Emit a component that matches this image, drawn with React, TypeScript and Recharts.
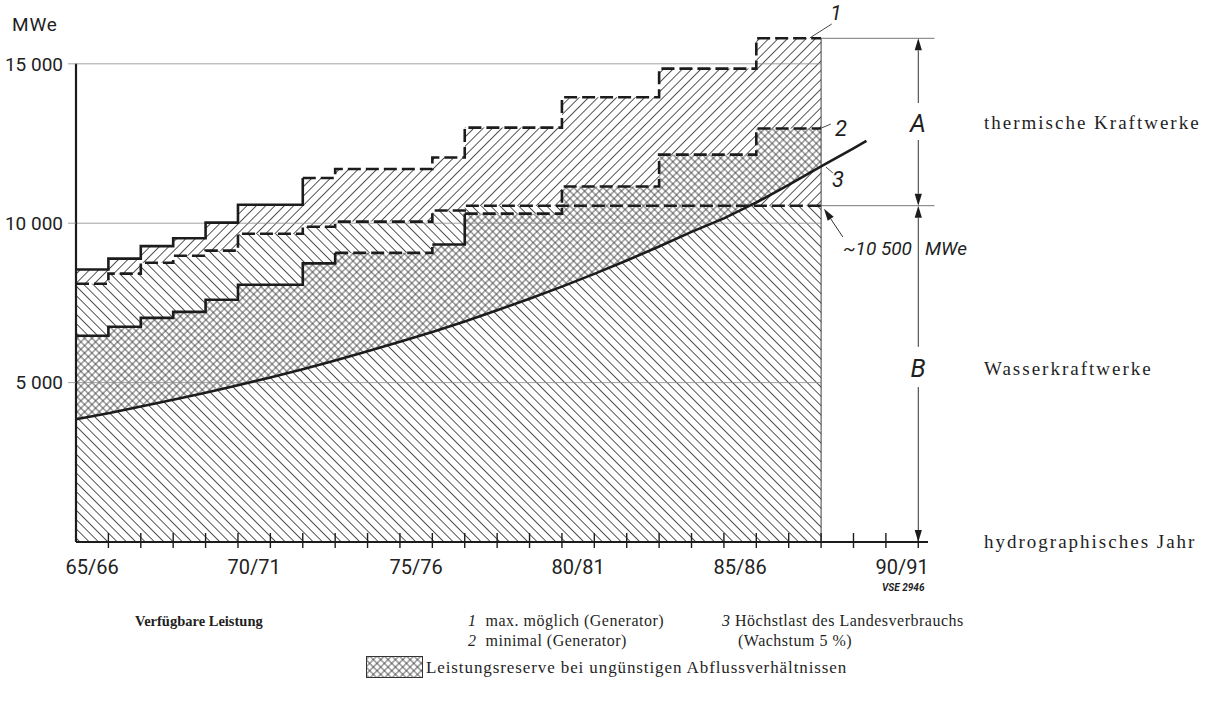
import React from 'react'
import { ComposedChart, Area, Line, XAxis, YAxis, ReferenceLine } from 'recharts'

// hydrographic years, index 0 = 65/66 … index 22 = 87/88
// 1 max. möglich (Generator)
const MAX_POSSIBLE = [8550, 8890, 9280, 9530, 10020, 10580, 10580, 11420, 11700, 11700, 11700, 12060, 13000, 13000, 13000, 13950, 13950, 13950, 14850, 14850, 14850, 15800, 15800]
// Wasserkraftwerke (upper limit of the hydro band)
const HYDRO_CAP = [8100, 8420, 8760, 8980, 9140, 9670, 9670, 9890, 10050, 10050, 10050, 10400, 10550, 10550, 10550, 10550, 10550, 10550, 10550, 10550, 10550, 10550, 10550]
// 2 minimal (Generator)
const MINIMAL = [6470, 6750, 7030, 7220, 7600, 8070, 8070, 8740, 9070, 9070, 9070, 9330, 10300, 10300, 10300, 11150, 11150, 11150, 12150, 12150, 12150, 12970, 12970]
// 3 Höchstlast des Landesverbrauchs
const LOAD_YEARS = [0, 1, 2, 3, 4, 5, 6, 7, 8, 9, 10, 11, 12, 13, 14, 15, 16, 17, 18, 19, 20, 20.8, 21, 22, 23, 24, 24.4]
const PEAK_LOAD = [3850, 4040, 4250, 4460, 4680, 4920, 5160, 5420, 5690, 5980, 6280, 6590, 6920, 7270, 7630, 8010, 8410, 8830, 9270, 9730, 10150, 10550, 10650, 11200, 11780, 12350, 12580]

const Y_TICKS = [5000, 10000, 15000]
const X_LABELS = ['65/66', '70/71', '75/76', '80/81', '85/86', '90/91']
const X_LABEL_POS = [0.5, 5.5, 10.5, 15.5, 20.5, 25.5]
const X_TICKS = Array.from({ length: 26 }, (_, i) => i + 1)

const HYDRO_LEVEL = 10550
const TOP_LEVEL = 15800

const LAST = MAX_POSSIBLE.length // 23 = right edge of the hatched block

const STEP_SERIES = [
  { key: 'max', values: MAX_POSSIBLE, pieces: [{ from: 0, to: 7, dashed: false }, { from: 7, to: LAST, dashed: true }] },
  { key: 'hyd', values: HYDRO_CAP, pieces: [{ from: 0, to: LAST, dashed: true }] },
  {
    key: 'min', values: MINIMAL, pieces: [
      { from: 0, to: 8, dashed: false }, { from: 8, to: 11, dashed: true },
      { from: 11, to: 12, dashed: false }, { from: 12, to: LAST, dashed: true },
    ],
  },
]

const stepVal = (arr: number[], x: number) =>
  Number.isInteger(x) && x <= arr.length ? arr[Math.min(x, arr.length - 1)] : undefined

const xs = Array.from(new Set([...Array.from({ length: LAST + 1 }, (_, i) => i), ...LOAD_YEARS])).sort((a, b) => a - b)

const data = xs.map(x => {
  const row: Record<string, any> = { x }
  for (const s of STEP_SERIES) {
    const v = stepVal(s.values, x)
    row[s.key] = v
    s.pieces.forEach((p, i) => {
      row[`${s.key}${i}`] = v !== undefined && x >= p.from && x <= p.to ? v : undefined
    })
  }
  const li = LOAD_YEARS.indexOf(x)
  const load = li >= 0 ? PEAK_LOAD[li] : undefined
  row.load = load
  row.loadFill = load !== undefined && x <= LAST ? load : undefined
  const h = HYDRO_CAP[Math.min(Math.floor(x), LAST - 1)]
  row.loadAboveHydro = load !== undefined && x <= LAST && load >= h ? [h, load] : undefined
  return row
})

const INK = '#1c1c1c'
const HATCH = '#3a3a3a'
const GRID = '#8c8c8c'
const SERIF = '"Liberation Serif", "DejaVu Serif", serif'
const SANS = 'Roboto, "DejaVu Sans", sans-serif'

const fmtThousands = (v: number) => String(v).replace(/\B(?=(\d{3})+(?!\d))/g, ' ')

function CrossTick(props: any) {
  const { x, y } = props
  return <line x1={x} x2={x} y1={y - 9} y2={y + 6} stroke={INK} strokeWidth={1.4} />
}

// line with filled arrow head at its second point
function arrowShape(props: any) {
  const { x1, y1, x2, y2 } = props
  const dx = x2 - x1
  const dy = y2 - y1
  const len = Math.hypot(dx, dy) || 1
  const ux = dx / len
  const uy = dy / len
  const L = 12
  const W = 3.6
  const bx = x2 - ux * L
  const by = y2 - uy * L
  const pts = `${x2},${y2} ${bx - uy * W},${by + ux * W} ${bx + uy * W},${by - ux * W}`
  return (
    <g>
      <line x1={x1} y1={y1} x2={bx} y2={by} stroke="#333" strokeWidth={1} />
      <polygon points={pts} fill={INK} />
    </g>
  )
}

function T({ x, y, children, size = 16, font = SERIF, italic = false, bold = false, ls = 0, center = false }: any) {
  return (
    <div
      style={{
        position: 'absolute', left: x, top: y,
        transform: `translate(${center ? '-50%' : '0'}, -50%)`,
        fontSize: size, fontFamily: font, fontStyle: italic ? 'italic' : 'normal',
        fontWeight: bold ? 700 : 400, letterSpacing: ls, whiteSpace: 'nowrap',
        lineHeight: 1, color: '#1f1f1f',
      }}
    >
      {children}
    </div>
  )
}

function Patterns() {
  return (
    <defs>
      <pattern id="hatchFwd" patternUnits="userSpaceOnUse" width={6.6} height={6.6} patternTransform="rotate(45)">
        <rect width={6.6} height={6.6} fill="#fff" />
        <line x1={3.3} y1={0} x2={3.3} y2={6.6} stroke={HATCH} strokeWidth={0.85} />
      </pattern>
      <pattern id="hatchBack" patternUnits="userSpaceOnUse" width={6.6} height={6.6} patternTransform="rotate(-45)">
        <rect width={6.6} height={6.6} fill="#fff" />
        <line x1={3.3} y1={0} x2={3.3} y2={6.6} stroke={HATCH} strokeWidth={0.85} />
      </pattern>
      <pattern id="hatchCross" patternUnits="userSpaceOnUse" width={5.2} height={5.2} patternTransform="rotate(45)">
        <rect width={5.2} height={5.2} fill="#fff" />
        <line x1={2.6} y1={0} x2={2.6} y2={5.2} stroke={HATCH} strokeWidth={0.8} />
        <line x1={0} y1={2.6} x2={5.2} y2={2.6} stroke={HATCH} strokeWidth={0.8} />
      </pattern>
    </defs>
  )
}

export default function App() {
  const stepLines = STEP_SERIES.flatMap(s =>
    s.pieces.map((p, i) => (
      <Line
        key={`${s.key}${i}`}
        dataKey={`${s.key}${i}`}
        type="stepAfter"
        stroke={INK}
        strokeWidth={2.6}
        strokeDasharray={p.dashed ? '13 5' : undefined}
        dot={false}
        activeDot={false}
        connectNulls
        isAnimationActive={false}
      />
    )),
  )

  return (
    <div style={{ position: 'absolute', left: 0, top: 0, width: 1209, height: 707, background: '#fff', overflow: 'hidden' }}>
      <div style={{ position: 'absolute', left: 0, top: 0 }}>
        <ComposedChart width={1209} height={707} data={data} margin={{ top: 16, right: 281, left: 0, bottom: 115 }}>
          <Patterns />
          <XAxis
            dataKey="x" type="number" domain={[0, 26.3]} ticks={X_TICKS} interval={0}
            tick={<CrossTick />} tickLine={false} tickSize={0} tickMargin={0} height={10}
            axisLine={{ stroke: INK, strokeWidth: 2 }}
          />
          <XAxis
            xAxisId="lab" dataKey="x" type="number" domain={[0, 26.3]} ticks={X_LABEL_POS} interval={0}
            tickFormatter={(v: number) => X_LABELS[X_LABEL_POS.indexOf(v)] ?? ''}
            tick={{ fontSize: 20, fill: '#222', fontFamily: SANS }}
            tickLine={false} axisLine={false} tickSize={0} tickMargin={8} height={40}
          />
          <YAxis
            type="number" domain={[0, 16500]} ticks={Y_TICKS} width={76} interval={0}
            axisLine={false} tickLine={{ stroke: GRID, strokeWidth: 0.8 }} tickSize={8} tickMargin={5}
            tickFormatter={fmtThousands}
            tick={{ fontSize: 19, fill: '#222', fontFamily: SANS }}
          />

          {/* hatched bands */}
          <Area dataKey="max" type="stepAfter" stroke="none" fill="url(#hatchFwd)" fillOpacity={1} connectNulls dot={false} activeDot={false} isAnimationActive={false} />
          <Area dataKey="hyd" type="stepAfter" stroke="none" fill="url(#hatchBack)" fillOpacity={1} connectNulls dot={false} activeDot={false} isAnimationActive={false} />
          <Area dataKey="min" type="stepAfter" stroke="none" fill="url(#hatchCross)" fillOpacity={1} connectNulls dot={false} activeDot={false} isAnimationActive={false} />
          <Area dataKey="loadFill" type="linear" stroke="none" fill="url(#hatchBack)" fillOpacity={1} dot={false} activeDot={false} isAnimationActive={false} />
          <Area dataKey="loadAboveHydro" type="linear" stroke="none" fill="url(#hatchFwd)" fillOpacity={1} dot={false} activeDot={false} isAnimationActive={false} />

          {/* grid */}
          {Y_TICKS.map(v => (
            <ReferenceLine key={v} segment={[{ x: 0, y: v }, { x: LAST, y: v }]} stroke={GRID} strokeWidth={0.8} ifOverflow="visible" />
          ))}
          <ReferenceLine segment={[{ x: LAST, y: 0 }, { x: LAST, y: TOP_LEVEL }]} stroke="#444" strokeWidth={1} ifOverflow="visible" />
          <ReferenceLine segment={[{ x: 0, y: 0 }, { x: 0, y: 15000 }]} stroke={INK} strokeWidth={2.2} ifOverflow="visible" />

          {stepLines}
          <Line dataKey="load" type="linear" stroke={INK} strokeWidth={2.6} dot={false} activeDot={false} connectNulls isAnimationActive={false} />

          {/* dimension lines on the right */}
          <ReferenceLine segment={[{ x: LAST, y: TOP_LEVEL }, { x: 26.5, y: TOP_LEVEL }]} stroke="#555" strokeWidth={0.8} ifOverflow="visible" />
          <ReferenceLine segment={[{ x: LAST, y: HYDRO_LEVEL }, { x: 26.5, y: HYDRO_LEVEL }]} stroke="#555" strokeWidth={0.8} ifOverflow="visible" />
          <ReferenceLine segment={[{ x: 26, y: 13770 }, { x: 26, y: TOP_LEVEL }]} shape={arrowShape} ifOverflow="visible" />
          <ReferenceLine segment={[{ x: 26, y: 12610 }, { x: 26, y: HYDRO_LEVEL }]} shape={arrowShape} ifOverflow="visible" />
          <ReferenceLine segment={[{ x: 26, y: 6120 }, { x: 26, y: HYDRO_LEVEL }]} shape={arrowShape} ifOverflow="visible" />
          <ReferenceLine segment={[{ x: 26, y: 4860 }, { x: 26, y: 0 }]} shape={arrowShape} ifOverflow="visible" />

          {/* leaders */}
          <ReferenceLine segment={[{ x: 22.65, y: 15810 }, { x: 23.33, y: 16250 }]} stroke="#333" strokeWidth={0.9} ifOverflow="visible" />
          <ReferenceLine segment={[{ x: 23.02, y: 12990 }, { x: 23.3, y: 13110 }]} stroke="#333" strokeWidth={0.9} ifOverflow="visible" />
          <ReferenceLine segment={[{ x: 23.15, y: 11760 }, { x: 23.36, y: 11580 }]} stroke="#333" strokeWidth={0.9} ifOverflow="visible" />
          <ReferenceLine segment={[{ x: 23.67, y: 9570 }, { x: 23.09, y: 10450 }]} shape={arrowShape} ifOverflow="visible" />
        </ComposedChart>
      </div>

      <T x={12} y={24} size={19} font={SANS} ls={0.8}>MWe</T>

      <T x={836} y={13} size={21} font={SANS} italic center>1</T>
      <T x={841} y={129} size={22} font={SANS} italic center>2</T>
      <T x={838} y={180} size={22} font={SANS} italic center>3</T>
      <T x={918} y={123} size={25} font={SANS} italic center>A</T>
      <T x={918} y={368} size={25} font={SANS} italic center>B</T>
      <T x={843} y={248} size={19} font={SANS} italic>~10 500</T>
      <T x={925} y={248} size={19} font={SANS} italic>MWe</T>
      <T x={882} y={588} size={10} font={SANS} italic bold>VSE 2946</T>

      <T x={984} y={122} size={19} ls={2}>thermische Kraftwerke</T>
      <T x={984} y={368} size={19} ls={2}>Wasserkraftwerke</T>
      <T x={984} y={541} size={19} ls={2}>hydrographisches Jahr</T>

      <T x={135} y={621} size={14.5} bold>Verfügbare Leistung</T>
      <T x={468} y={621} size={16} ls={0.5}><i>1</i>&nbsp; max. möglich (Generator)</T>
      <T x={468} y={641} size={16} ls={0.5}><i>2</i>&nbsp; minimal (Generator)</T>
      <T x={722} y={621} size={16} ls={0.5}><i>3</i>&nbsp;Höchstlast des Landesverbrauchs</T>
      <T x={738} y={641} size={16} ls={0.5}>(Wachstum 5 %)</T>

      <svg style={{ position: 'absolute', left: 366, top: 656 }} width={57} height={22}>
        <defs>
          <pattern id="swatchCross" patternUnits="userSpaceOnUse" width={5.2} height={5.2} patternTransform="rotate(45)">
            <line x1={2.6} y1={0} x2={2.6} y2={5.2} stroke={HATCH} strokeWidth={0.8} />
            <line x1={0} y1={2.6} x2={5.2} y2={2.6} stroke={HATCH} strokeWidth={0.8} />
          </pattern>
        </defs>
        <rect x={0.5} y={0.5} width={56} height={21} fill="url(#swatchCross)" stroke="#333" strokeWidth={1} />
      </svg>
      <T x={426} y={667} size={17} ls={0.9}>Leistungsreserve bei ungünstigen Abflussverhältnissen</T>
    </div>
  )
}
